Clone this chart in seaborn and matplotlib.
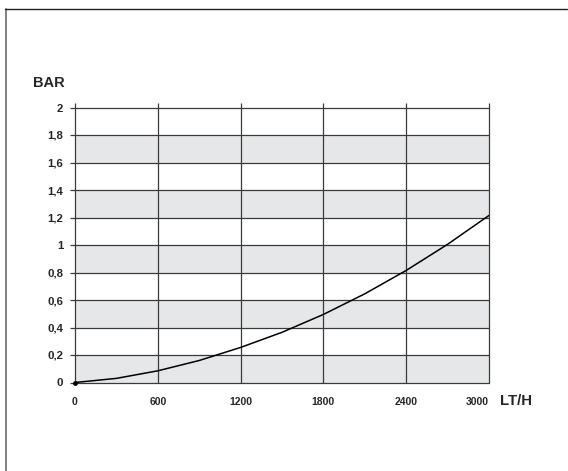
import numpy as np
import pandas as pd
import matplotlib.pyplot as plt
import seaborn as sns
from matplotlib.lines import Line2D

# Flow (LT/H) vs pressure drop (BAR)
flow = [0, 300, 600, 900, 1200, 1500, 1800, 2100, 2400, 2700, 3000]
pressure = [0.0, 0.03, 0.085, 0.16, 0.255, 0.365, 0.495, 0.645, 0.815, 1.005, 1.215]

x_ticks = [0, 600, 1200, 1800, 2400, 3000]
y_ticks = [0, 0.2, 0.4, 0.6, 0.8, 1.0, 1.2, 1.4, 1.6, 1.8, 2.0]
y_labels = ["0", "0,2", "0,4", "0,6", "0,8", "1", "1,2", "1,4", "1,6", "1,8", "2"]

sns.set_style("white")
plt.rcParams['font.family'] = ['Liberation Sans', 'DejaVu Sans']

df = pd.DataFrame({'flow': flow, 'pressure': pressure})

fig = plt.figure(figsize=(5.68, 4.71), dpi=100)
ax = fig.add_axes([75 / 568, 88.5 / 471, 414 / 568, 275 / 471])

# alternating grey bands
for lo, hi in zip(y_ticks[:-1:2], y_ticks[1::2]):
    ax.axhspan(lo, hi, color='#e6e7e9', lw=0, zorder=0)

for xv in x_ticks:
    ax.axvline(xv, color='#3a3a3a', lw=0.9, zorder=1, clip_on=False)
for yv in y_ticks:
    ax.axhline(yv, color='#3a3a3a', lw=0.9, zorder=1, clip_on=False)

sns.lineplot(data=df, x='flow', y='pressure', color='black', lw=1.1, ax=ax, zorder=3)
ax.plot(flow[0], pressure[0], 'o', color='black', ms=2.5, zorder=4, clip_on=False)

ax.set_xlim(0, 3000)
ax.set_ylim(0, 2)
for s in ax.spines.values():
    s.set_visible(False)

ax.set_xticks(x_ticks)
ax.set_xticklabels([str(v) for v in x_ticks], fontsize=7.5, fontweight='bold')
ax.get_xticklabels()[-1].set_ha('right')  # last label sits left of the axis end
ax.set_yticks(y_ticks)
ax.set_yticklabels(y_labels, fontsize=8.2, fontweight='bold')
ax.tick_params(axis='y', direction='out', length=3.3, width=0.9, color='#3a3a3a', pad=5, left=True)
ax.tick_params(axis='x', direction='out', length=3.3, width=0.9, color='#3a3a3a', pad=7.2,
               bottom=False, top=True)
ax.set_xlabel('')
ax.set_ylabel('')

fig.text(33 / 568, 1 - 83 / 471, 'BAR', fontsize=10.5, fontweight='bold', va='center', ha='left')
fig.text(500 / 568, 1 - 401 / 471, 'LT/H', fontsize=10.8, fontweight='bold', va='center', ha='left')

# outer frame (left and top only)
fig.add_artist(Line2D([5.5 / 568, 5.5 / 568], [0, 1 - 9 / 471], color='#777777', lw=1.3))
fig.add_artist(Line2D([5 / 568, 567 / 568], [1 - 9 / 471, 1 - 9 / 471], color='#222222', lw=1.0))

fig.savefig('out.png', dpi=100)
